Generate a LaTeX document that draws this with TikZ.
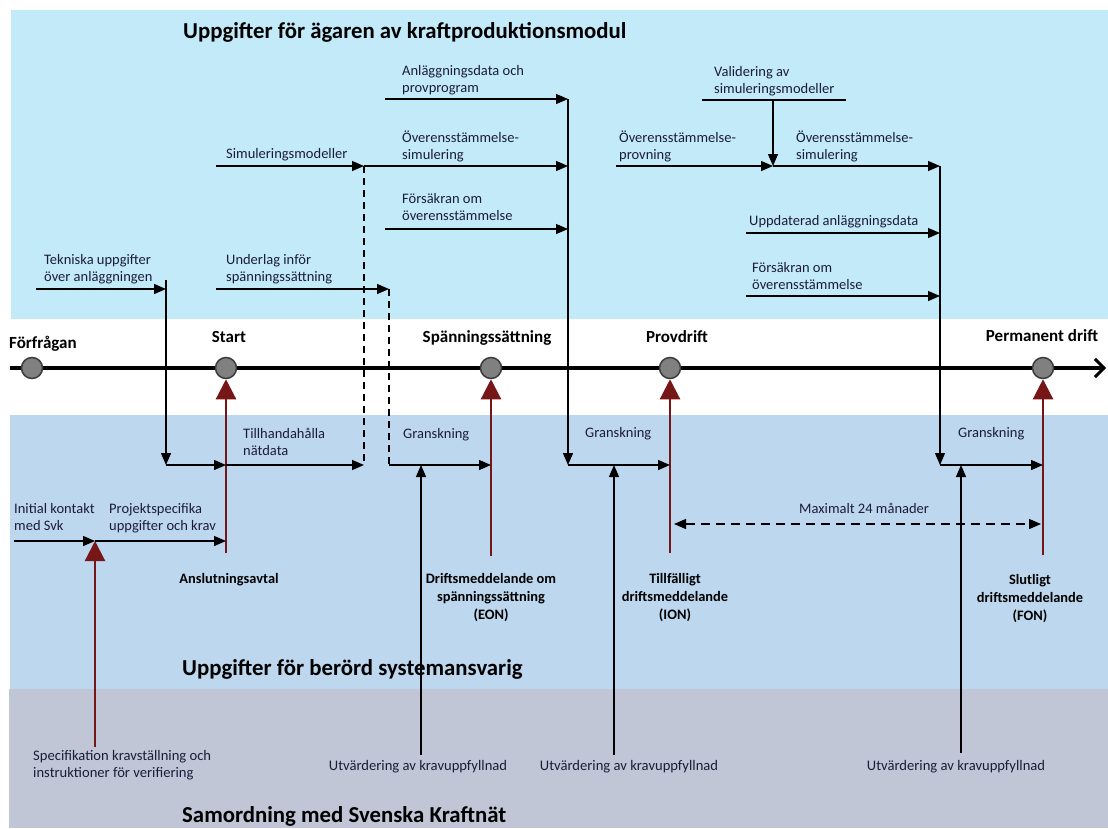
\documentclass[tikz,border=0pt]{standalone}
\usepackage{fontspec}
\setmainfont{Carlito}
\usetikzlibrary{arrows.meta}
\definecolor{topblue}{RGB}{194,234,249}
\definecolor{midblue}{RGB}{189,215,238}
\definecolor{lowgray}{RGB}{192,198,214}
\definecolor{darkred}{RGB}{118,22,22}
\definecolor{txt}{RGB}{28,28,58}
\definecolor{msfill}{RGB}{128,128,128}
\definecolor{msdraw}{RGB}{60,60,60}
\tikzset{
  lbl/.style={font=\fontsize{14.5}{17}\selectfont, text=txt, inner sep=0, align=left, anchor=base west},
  slbl/.style={font=\fontsize{14.6}{17}\selectfont, text=txt, inner sep=0, align=left, anchor=base west},
  blbl/.style={font=\fontsize{17}{18}\selectfont\bfseries, text=black, inner sep=0, align=center, anchor=base},
  bsm/.style={font=\fontsize{14.4}{18}\selectfont\bfseries, text=black, inner sep=0, align=center, anchor=base},
  ttl/.style={font=\fontsize{22.8}{26}\selectfont\bfseries, text=black, inner sep=0, anchor=west},
  flow/.style={draw=black, line width=1.3, -{Triangle[length=12,width=10]}},
  plain/.style={draw=black, line width=1.3},
  dline/.style={draw=black, line width=1.3, dash pattern=on 7 off 5},
  redarr/.style={draw=darkred, line width=2.2, -{Triangle[length=20,width=20]}},
  ms/.style={circle, fill=msfill, draw=msdraw, line width=1.5, minimum size=21, inner sep=0}
}
\begin{document}
\begin{tikzpicture}[x=1pt,y=-1pt]
\useasboundingbox (0,0) rectangle (1108,828);
\fill[white] (0,0) rectangle (1108,828);
\fill[topblue] (11,10) rectangle (1108,319);
\fill[midblue] (10,415) rectangle (1108,689);
\fill[lowgray] (9,689) rectangle (1108,828);

% titles
\node[ttl] (t1) at (183,32) {Uppgifter för ägaren av kraftproduktionsmodul};
\node[ttl] (t2) at (182,669) {Uppgifter för berörd systemansvarig};
\node[ttl] (t3) at (182,816) {Samordning med Svenska Kraftnät};

% timeline
\coordinate (tl0) at (10,368);
\coordinate (tl1) at (1106,368);
\draw[line width=4.2, -{Straight Barb[length=9,width=18,line width=3]}] (tl0) -- (tl1);
\node[ms] (F) at (32,368) {};
\node[ms] (S) at (226,368) {};
\node[ms] (SP) at (491,368) {};
\node[ms] (P) at (670,368) {};
\node[ms] (PD) at (1043,368) {};
\node[blbl, anchor=base west] (lF) at (9,348) {Förfrågan};
\node[blbl] (lS) at (229,342) {Start};
\node[blbl] (lSP) at (487,342) {Spänningssättning};
\node[blbl] (lP) at (677,342) {Provdrift};
\node[blbl] (lPD) at (1042,341) {Permanent drift};

% red arrows
\coordinate (rS) at (226,553);
\coordinate (rSP) at (491,556);
\coordinate (rP) at (670,553);
\coordinate (rPD) at (1043,555);
\coordinate (rI0) at (95,747);
\coordinate (rI1) at (95,541);
\draw[redarr] (rS) -- (S.south);
\draw[redarr] (rSP) -- (SP.south);
\draw[redarr] (rP) -- (P.south);
\draw[redarr] (rPD) -- (PD.south);
\draw[redarr] (rI0) -- (rI1);

% coordinates top-left
\coordinate (a0) at (385,99);
\coordinate (a1) at (568,99);
\coordinate (b0) at (364,166);
\coordinate (b1) at (568,166);
\coordinate (c0) at (385,229);
\coordinate (c1) at (568,229);
\coordinate (d0) at (216,166);
\coordinate (e0) at (36,289);
\coordinate (e1) at (166,289);
\coordinate (e2) at (166,280);
\coordinate (e3) at (166,465);
\coordinate (f0) at (216,289);
\coordinate (f1) at (389,289);
\coordinate (g1) at (364,465);
\coordinate (g2) at (226,465);
\coordinate (h1) at (389,465);
\coordinate (h2) at (491,465);
\coordinate (v1) at (568,465);
\coordinate (v2) at (670,465);
\coordinate (u1) at (421,755);
\coordinate (u1t) at (421,465);
\coordinate (u2) at (614,755);
\coordinate (u2t) at (614,465);
\coordinate (u3) at (961,753);
\coordinate (u3t) at (961,465);
\coordinate (i0) at (14,541);
\coordinate (i2) at (226,541);
% right
\coordinate (va0) at (702,100);
\coordinate (va1) at (846,100);
\coordinate (vm) at (773,100);
\coordinate (vj) at (773,166);
\coordinate (op0) at (616,166);
\coordinate (os1) at (940,166);
\coordinate (ud0) at (746,233);
\coordinate (ud1) at (940,233);
\coordinate (fo0) at (746,296);
\coordinate (fo1) at (940,296);
\coordinate (w1) at (940,465);
\coordinate (w2) at (1043,465);
\coordinate (m0) at (674,524);
\coordinate (m1) at (1041,524);

\draw[flow] (a0) -- (a1);
\draw[flow] (b0) -- (b1);
\draw[flow] (c0) -- (c1);
\draw[flow] (a1) -- (v1);
\draw[flow] (v1) -- (v2);
\draw[flow] (d0) -- (b0);
\draw[dline] (b0) -- (g1);
\draw[flow] (e0) -- (e1);
\draw[flow] (e2) -- (e3);
\draw[flow] (e3) -- (g2);
\draw[flow] (g2) -- (g1);
\draw[flow] (f0) -- (f1);
\draw[dline] (f1) -- (h1);
\draw[flow] (h1) -- (h2);
\draw[flow] (u1) -- (u1t);
\draw[flow] (u2) -- (u2t);
\draw[flow] (u3) -- (u3t);
\draw[flow] (i0) -- (rI1);
\draw[flow] (rI1) -- (i2);
\draw[plain] (va0) -- (va1);
\draw[flow] (vm) -- (vj);
\draw[flow] (op0) -- (vj);
\draw[flow] (vj) -- (os1);
\draw[flow] (os1) -- (w1);
\draw[flow] (w1) -- (w2);
\draw[flow] (ud0) -- (ud1);
\draw[flow] (fo0) -- (fo1);
\draw[black, line width=1.3, dash pattern=on 9 off 6, {Triangle[length=12,width=10]}-{Triangle[length=12,width=10]}] (m0) -- (m1);

% labels (base anchor of multi-line nodes = last line)
\node[lbl] (n1) at (402,92) {Anläggningsdata och\\provprogram};
\node[lbl] (n2) at (402,159) {Överensstämmelse-\\simulering};
\node[lbl] (n3) at (402,220) {Försäkran om\\överensstämmelse};
\node[lbl] (n4) at (226,158) {Simuleringsmodeller};
\node[lbl] (n5) at (44,281) {Tekniska uppgifter\\över anläggningen};
\node[lbl] (n6) at (226,281) {Underlag inför\\spänningssättning};
\node[lbl] (n7) at (714,93) {Validering av\\simuleringsmodeller};
\node[lbl] (n8) at (619,159) {Överensstämmelse-\\provning};
\node[lbl] (n9) at (796,159) {Överensstämmelse-\\simulering};
\node[lbl] (n10) at (749,225) {Uppdaterad anläggningsdata};
\node[lbl] (n11) at (752,289) {Försäkran om\\överensstämmelse};
\node[lbl] (n12) at (243,455) {Tillhandahålla\\nätdata};
\node[lbl] (n13) at (403,438) {Granskning};
\node[lbl] (n14) at (585,437) {Granskning};
\node[lbl] (n15) at (958,437) {Granskning};
\node[lbl] (n16) at (14,530) {Initial kontakt\\med Svk};
\node[lbl] (n17) at (109,530) {Projektspecifika\\uppgifter och krav};
\node[lbl] (n18) at (799,513) {Maximalt 24 månader};
\node[bsm] (n19) at (229,583) {Anslutningsavtal};
\node[bsm] (n20) at (491,619) {Driftsmeddelande om\\spänningssättning\\(EON)};
\node[bsm] (n21) at (675,619) {Tillfälligt\\driftsmeddelande\\(ION)};
\node[bsm] (n22) at (1030,620) {Slutligt\\driftsmeddelande\\(FON)};
\node[slbl] (n23) at (33,777) {Specifikation kravställning och\\instruktioner för verifiering};
\node[slbl, anchor=base] (n24) at (418,770) {Utvärdering av kravuppfyllnad};
\node[slbl, anchor=base] (n25) at (629,770) {Utvärdering av kravuppfyllnad};
\node[slbl, anchor=base] (n26) at (956,770) {Utvärdering av kravuppfyllnad};
\end{tikzpicture}
\end{document}
